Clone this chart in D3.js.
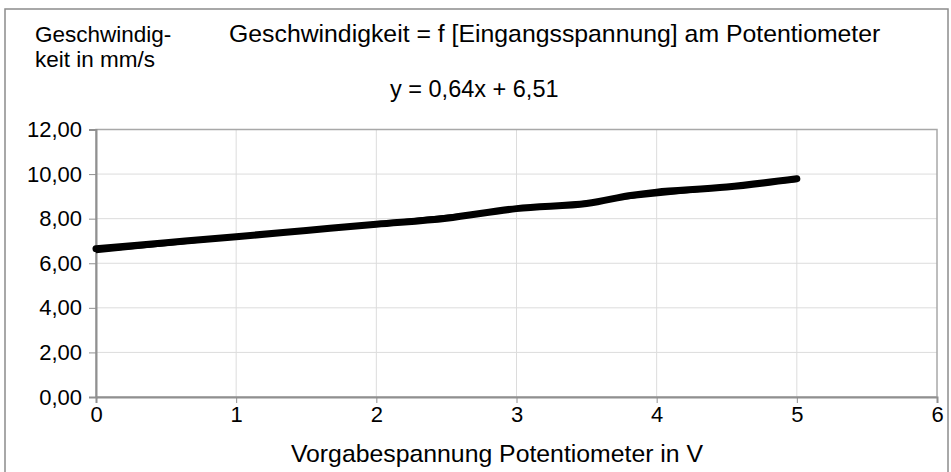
<!DOCTYPE html>
<html><head><meta charset="utf-8">
<script src="https://cdn.jsdelivr.net/npm/d3@7"></script>
<style>html,body{margin:0;padding:0;background:#fff}svg{display:block}text{font-family:"Liberation Sans",Arial,sans-serif;fill:#000}</style>
</head><body>
<script>
const xValues = [0, 0.5, 1, 1.5, 2, 2.5, 3, 3.5, 3.8, 4, 4.5, 5];
const speedValues = [6.65, 6.92, 7.19, 7.47, 7.75, 8.02, 8.45, 8.68, 9.03, 9.19, 9.42, 9.79];
const xTicks = [0, 1, 2, 3, 4, 5, 6];
const yTicks = [0, 2, 4, 6, 8, 10, 12];
const trendSlope = 0.64, trendIntercept = 6.51;
const titleText = "Geschwindigkeit = f [Eingangsspannung] am Potentiometer";
const yTitleLines = ["Geschwindig-", "keit in mm/s"];
const xTitleText = "Vorgabespannung Potentiometer in V";
const equationText = "y = 0,64x + 6,51";

const W = 951, H = 472;
const m = {left: 96, right: 937, top: 129.5, bottom: 397};
const svg = d3.select("body").append("svg").attr("width", W).attr("height", H);

svg.append("rect").attr("x", 5).attr("y", 9).attr("width", 943).attr("height", 480)
  .attr("fill", "#fff").attr("stroke", "#8c8c8c").attr("stroke-width", 1.5);

const x = d3.scaleLinear().domain([0, 6]).range([m.left, m.right]);
const y = d3.scaleLinear().domain([0, 12]).range([m.bottom, m.top]);

svg.append("g").selectAll("line").data(xTicks.slice(1, -1)).join("line")
  .attr("x1", d => x(d)).attr("x2", d => x(d)).attr("y1", m.top).attr("y2", m.bottom)
  .attr("stroke", "#dcdcdc").attr("stroke-width", 1);
svg.append("g").selectAll("line").data(yTicks.slice(1, -1)).join("line")
  .attr("x1", m.left).attr("x2", m.right).attr("y1", d => y(d)).attr("y2", d => y(d))
  .attr("stroke", "#dcdcdc").attr("stroke-width", 1);

svg.append("rect").attr("x", m.left).attr("y", m.top).attr("width", m.right - m.left).attr("height", m.bottom - m.top)
  .attr("fill", "none").attr("stroke", "#a8a8a8").attr("stroke-width", 1.5);

const fmt = d => d3.format(".2f")(d).replace(".", ",");
const yAxis = svg.append("g").attr("transform", `translate(${m.left},0)`)
  .call(d3.axisLeft(y).tickValues(yTicks).tickFormat(fmt).tickSize(7).tickPadding(7));
const xAxis = svg.append("g").attr("transform", `translate(0,${m.bottom})`)
  .call(d3.axisBottom(x).tickValues(xTicks).tickFormat(d3.format("d")).tickSize(6).tickPadding(3));
[yAxis, xAxis].forEach(a => {
  a.attr("font-size", null).attr("font-family", null);
  a.select(".domain").attr("stroke", "#909090").attr("stroke-width", 2);
  a.selectAll(".tick line").attr("stroke", "#909090");
  a.selectAll("text").style("font-size", "22px").style("font-family", '"Liberation Sans",Arial,sans-serif').attr("fill", "#000");
});

svg.append("line").attr("x1", x(0)).attr("y1", y(trendIntercept))
  .attr("x2", x(5)).attr("y2", y(trendIntercept + trendSlope * 5))
  .attr("stroke", "#000").attr("stroke-width", 3);

const line = d3.line().x((d, i) => x(xValues[i])).y(d => y(d)).curve(d3.curveCatmullRom.alpha(0.5));
svg.append("path").datum(speedValues).attr("d", line)
  .attr("fill", "none").attr("stroke", "#000").attr("stroke-width", 7)
  .attr("stroke-linecap", "round").attr("stroke-linejoin", "round");

svg.append("text").attr("x", 229).attr("y", 42).style("font-size", "24.8px").text(titleText);
yTitleLines.forEach((t, i) => svg.append("text").attr("x", 35).attr("y", 42 + i * 25).style("font-size", "22.5px").text(t));
svg.append("text").attr("x", 390).attr("y", 97).style("font-size", "23.5px").text(equationText);
svg.append("text").attr("x", 497).attr("y", 462).attr("text-anchor", "middle").style("font-size", "24.8px").text(xTitleText);
</script>
</body></html>
